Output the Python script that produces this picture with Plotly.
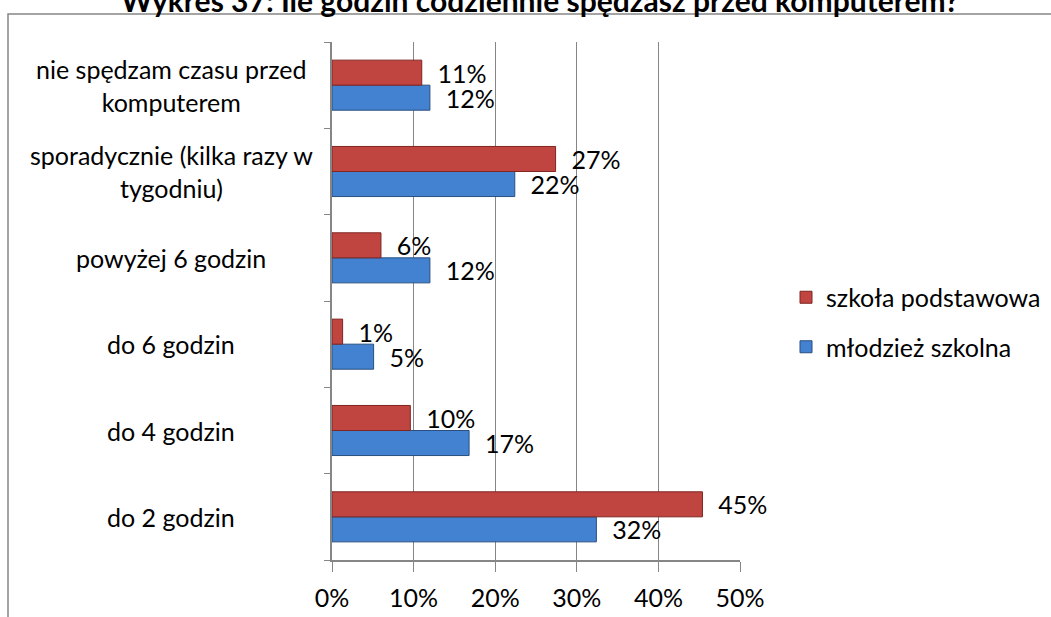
import plotly.graph_objects as go

categories = ["do 2 godzin", "do 4 godzin", "do 6 godzin", "powyżej 6 godzin",
              "sporadycznie (kilka razy w<br>tygodniu)", "nie spędzam czasu przed<br>komputerem"]
mlodziez = [32.4, 16.8, 5.1, 12.0, 22.4, 12.0]
podstawowa = [45.4, 9.6, 1.3, 6.0, 27.4, 11.0]
series_names = ["młodzież szkolna", "szkoła podstawowa"]
x_ticks = [0, 10, 20, 30, 40, 50]
x_tick_labels = [f"{v}%" for v in x_ticks]
title = "Wykres 37: Ile godzin codziennie spędzasz przed komputerem?"

FONT = "Lato"
FS = 25
W, H = 1051, 617
ML, MR, MT, MB = 332, 311, 42, 57
PW, PH = W - ML - MR, H - MT - MB

def px(x):
    return (x - ML) / PW

def py(y):
    return (H - MB - y) / PH

fig = go.Figure()
fig.add_trace(go.Bar(
    y=categories, x=mlodziez, name=series_names[0], orientation="h",
    marker=dict(color="#4282D0", line=dict(color="#2A4F80", width=1)),
    texttemplate="  %{x:.0f}%", textposition="outside", cliponaxis=False,
    constraintext="none",
    textfont=dict(family=FONT, size=25, color="#000"), legendgroup="a", legendrank=2,
))
fig.add_trace(go.Bar(
    y=categories, x=podstawowa, name=series_names[1], orientation="h",
    marker=dict(color="#C0443F", line=dict(color="#7F2522", width=1)),
    texttemplate="  %{x:.0f}%", textposition="outside", cliponaxis=False,
    constraintext="none",
    textfont=dict(family=FONT, size=25, color="#000"), legendgroup="b", legendrank=1,
))

annotations = []
for c in categories:
    annotations.append(dict(
        x=px(171), xref="paper", y=c, yref="y", text=c, showarrow=False,
        xanchor="center", yanchor="middle", align="center",
        font=dict(family=FONT, size=FS, color="#000")))
annotations.append(dict(
    x=px(540), xref="paper", y=py(0), yref="paper", text="<b>" + title + "</b>",
    showarrow=False, xanchor="center", yanchor="middle",
    font=dict(family=FONT, size=30, color="#000")))

fig.update_layout(
    width=W, height=H, autosize=False,
    margin=dict(l=ML, r=MR, t=MT, b=MB, pad=0, autoexpand=False),
    paper_bgcolor="white", plot_bgcolor="white",
    barmode="group", bargap=0.42, bargroupgap=0,
    showlegend=True,
    legend=dict(x=px(786), y=py(322), xanchor="left", yanchor="middle",
                traceorder="grouped", tracegroupgap=14,
                font=dict(family=FONT, size=25, color="#000"),
                bgcolor="rgba(0,0,0,0)", itemwidth=30),
    xaxis=dict(range=[0, 50], tickmode="array", tickvals=x_ticks, ticktext=x_tick_labels,
               showgrid=True, gridcolor="#868686", gridwidth=1,
               showline=True, linecolor="#868686", linewidth=1.5,
               ticks="outside", ticklen=10, tickcolor="#868686",
               ticklabelstandoff=5,
               tickfont=dict(family=FONT, size=FS, color="#000"),
               zeroline=False, fixedrange=True),
    yaxis=dict(showticklabels=False, showgrid=False, showline=True,
               linecolor="#868686", linewidth=1.5, ticks="outside",
               tickson="boundaries", ticklen=6, tickcolor="#868686",
               zeroline=False, fixedrange=True),
    annotations=annotations,
    shapes=[dict(type="rect", xref="paper", yref="paper",
                 x0=px(8), x1=px(1070), y0=py(640), y1=py(14),
                 line=dict(color="#868686", width=1.5), layer="below")],
)

fig.write_html("out.html", config={"displayModeBar": False},
               post_script="document.body.style.margin='0';document.body.style.overflow='hidden';")
